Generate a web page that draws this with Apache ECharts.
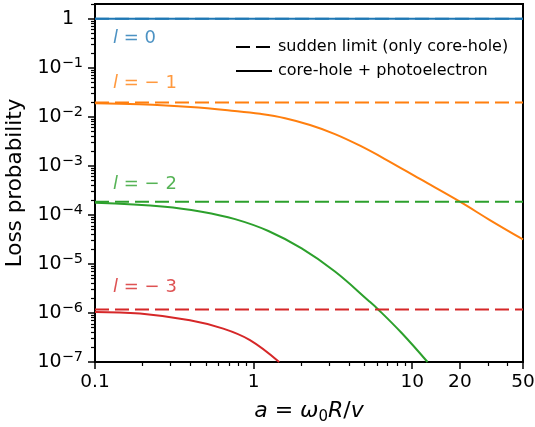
<!DOCTYPE html>
<html>
<head>
    <meta charset="utf-8">
    <title>Loss probability</title>
    <script src="https://cdn.jsdelivr.net/npm/echarts@6/dist/echarts.min.js"></script>
</head>
<body style="margin:0">
    <div id="main" style="width: 535px;height:427px;"></div>
    <script type="text/javascript">
        // axis ranges (a = w0 R / v on x, loss probability on y), both log
        var aRange = [0.1, 50];
        var pRange = [1e-7, 2];

        var xTicks = [0.1, 1, 10, 20, 50];
        var xTickLabels = ['0.1', '1', '10', '20', '50'];
        var xMinorTicks = [0.2, 0.3, 0.4, 0.5, 0.6, 0.7, 0.8, 0.9, 2, 3, 4, 5, 6, 7, 8, 9, 30, 40];
        var yTicks = [1e-7, 1e-6, 1e-5, 1e-4, 1e-3, 1e-2, 1e-1, 1];
        var yTickLabels = ['10^−7', '10^−6', '10^−5', '10^−4', '10^−3', '10^−2', '10^−1', '1'];

        var levels = ['l = 0', 'l = − 1', 'l = − 2', 'l = − 3'];
        var colors = ['#1f77b4', '#ff7f0e', '#2ca02c', '#d62728'];

        // sudden limit (only core-hole): flat dashed lines
        var suddenLimit = [1, 0.0195, 1.86e-4, 1.18e-6];

        // core-hole + photoelectron: solid curves
        var a0 = [0.1, 50];
        var p0 = [1, 1];
        var a1 = [0.1, 0.19, 0.4, 0.76, 1.1, 1.58, 2.27, 3.26, 4.69, 6.74, 11.2, 20, 30.9, 50];
        var p1 = [0.0190, 0.0181, 0.0159, 0.0132, 0.0115, 0.00937, 0.0068, 0.00445, 0.00258, 0.00138, 0.00054, 0.000186, 0.0000785, 0.0000316];
        var a2 = [0.1, 0.276, 0.47, 0.764, 1.24, 2.01, 3.26, 5.29, 6.11, 8.59, 12.5];
        var p2 = [1.76e-4, 1.47e-4, 1.16e-4, 8.2e-5, 4.7e-5, 2.07e-5, 7.0e-6, 1.8e-6, 1.18e-6, 3.9e-7, 1e-7];
        var a3 = [0.1, 0.192, 0.397, 0.644, 0.949, 1.45];
        var p3 = [1.05e-6, 9.75e-7, 7.1e-7, 4.8e-7, 2.8e-7, 1e-7];

        // where the l = ... labels sit (left edge, vertical centre)
        var labelA = [0.13, 0.13, 0.13, 0.13];
        var labelP = [0.39, 0.049, 4.3e-4, 3.4e-6];

        var curvesA = [a0, a1, a2, a3];
        var curvesP = [p0, p1, p2, p3];

        var font = 'DejaVu Sans';
        var dash = [14, 6];

        function lg(v) { return Math.log10(v); }
        function pts(xs, ys) {
            return xs.map(function (x, i) { return [lg(x), lg(ys[i])]; });
        }
        function nearest(list, v) {
            var best = 0;
            for (var i = 1; i < list.length; i++) {
                if (Math.abs(lg(list[i]) - v) < Math.abs(lg(list[best]) - v)) best = i;
            }
            return best;
        }

        var yMinorTicks = [];
        for (var k = 0; k < yTicks.length; k++) {
            for (var m = 2; m <= 9; m++) {
                var t = m * yTicks[k];
                if (t <= pRange[1]) yMinorTicks.push(t);
            }
        }

        var series = [];
        for (var i = 0; i < 4; i++) {
            series.push({
                type: 'line',
                data: pts(curvesA[i], curvesP[i]),
                smooth: 0.4,
                symbol: 'none',
                silent: true,
                lineStyle: { color: colors[i], width: 2 }
            });
            series.push({
                type: 'line',
                data: pts(aRange, [suddenLimit[i], suddenLimit[i]]),
                symbol: 'none',
                silent: true,
                lineStyle: { color: colors[i], width: 2, type: dash }
            });
        }
        // legend entries
        series.push({
            name: 'sudden limit (only core-hole)',
            type: 'line', data: [], symbol: 'none',
            itemStyle: { color: '#000' },
            lineStyle: { color: '#000', width: 2, type: dash }
        });
        series.push({
            name: 'core-hole + photoelectron',
            type: 'line', data: [], symbol: 'none',
            itemStyle: { color: '#000' },
            lineStyle: { color: '#000', width: 2 }
        });
        // l = ... annotations
        series.push({
            type: 'scatter',
            symbolSize: 0,
            silent: true,
            data: levels.map(function (txt, i) {
                return {
                    value: [lg(labelA[i]), lg(labelP[i])],
                    name: txt,
                    label: { color: colors[i] }
                };
            }),
            label: {
                show: true,
                position: 'right',
                distance: 0,
                fontFamily: font,
                fontSize: 18,
                formatter: function (p) {
                    return '{i|l}' + p.name.slice(1);
                },
                rich: { i: { fontStyle: 'italic', fontSize: 18, fontFamily: font } }
            }
        });

        var myChart = echarts.init(document.getElementById('main'));
        var option = {
            animation: false,
            backgroundColor: '#fff',
            grid: {
                left: 95, right: 12, top: 4, bottom: 65,
                show: true, borderColor: '#000', borderWidth: 2,
                outerBoundsMode: 'none'
            },
            legend: {
                data: [
                    { name: 'sudden limit (only core-hole)', icon: 'path://M0 0h14v2H0z M20 0h14v2H20z M36 0h0.01v2H36z' },
                    { name: 'core-hole + photoelectron', icon: 'path://M0 0h36v2H0z' }
                ],
                orient: 'vertical',
                left: 231, top: 34,
                itemWidth: 36, itemHeight: 2, itemGap: 8,
                itemStyle: { color: '#000', borderWidth: 0 },
                selectedMode: false,
                textStyle: { fontSize: 16, color: '#000', fontFamily: font, padding: [0, 0, 0, 1] }
            },
            xAxis: [{
                type: 'value', position: 'bottom',
                min: lg(aRange[0]), max: lg(aRange[1]),
                axisLine: { onZero: false, lineStyle: { color: '#000', width: 2 } },
                axisTick: { customValues: xTicks.map(lg), length: 7, lineStyle: { color: '#000', width: 1.5 } },
                axisLabel: {
                    customValues: xTicks.map(lg), margin: 11,
                    fontSize: 18.5, color: '#000', fontFamily: font,
                    formatter: function (v) { return xTickLabels[nearest(xTicks, v)]; }
                },
                splitLine: { show: false },
                name: '{i|a} = {i|ω}{sub|0}{i|R}/{i|v}',
                nameLocation: 'middle', nameGap: 35,
                nameTextStyle: {
                    fontSize: 22, color: '#000', fontFamily: font,
                    rich: {
                        i: { fontStyle: 'italic', fontSize: 22, fontFamily: font, color: '#000', lineHeight: 28 },
                        sub: { fontSize: 15, fontFamily: font, color: '#000', verticalAlign: 'bottom', lineHeight: 18 }
                    }
                }
            }, {
                type: 'value', position: 'bottom',
                min: lg(aRange[0]), max: lg(aRange[1]),
                axisLine: { show: false, onZero: false },
                axisTick: { customValues: xMinorTicks.map(lg), length: 4, lineStyle: { color: '#000', width: 1.2 } },
                axisLabel: { show: false },
                splitLine: { show: false }
            }],
            yAxis: [{
                type: 'value', position: 'left',
                min: lg(pRange[0]), max: lg(pRange[1]),
                axisLine: { show: true, onZero: false, lineStyle: { color: '#000', width: 2 } },
                axisTick: { show: true, customValues: yTicks.map(lg), length: 7, lineStyle: { color: '#000', width: 1.5 } },
                axisLabel: {
                    customValues: yTicks.map(lg), margin: 12,
                    fontSize: 19, color: '#000', fontFamily: font, lineHeight: 24,
                    formatter: function (v) {
                        var s = yTickLabels[nearest(yTicks, v)];
                        var parts = s.split('^');
                        return parts.length > 1 ? parts[0] + '{sup|' + parts[1] + '}' : '{one|' + s + '}';
                    },
                    rich: {
                        sup: { fontSize: 14.5, fontFamily: font, color: '#000', verticalAlign: 'top', lineHeight: 14 },
                        one: { fontSize: 19, fontFamily: font, color: '#000', padding: [0, 9, 0, 0] }
                    }
                },
                splitLine: { show: false },
                name: 'Loss probability',
                nameLocation: 'middle', nameGap: 67,
                nameTextStyle: { fontSize: 21.5, color: '#000', fontFamily: font }
            }, {
                type: 'value', position: 'left',
                min: lg(pRange[0]), max: lg(pRange[1]),
                axisLine: { show: false, onZero: false },
                axisTick: { show: true, customValues: yMinorTicks.map(lg), length: 4, lineStyle: { color: '#000', width: 1.2 } },
                axisLabel: { show: false },
                splitLine: { show: false }
            }],
            series: series
        };

        myChart.setOption(option);
    </script>
</body>
</html>
